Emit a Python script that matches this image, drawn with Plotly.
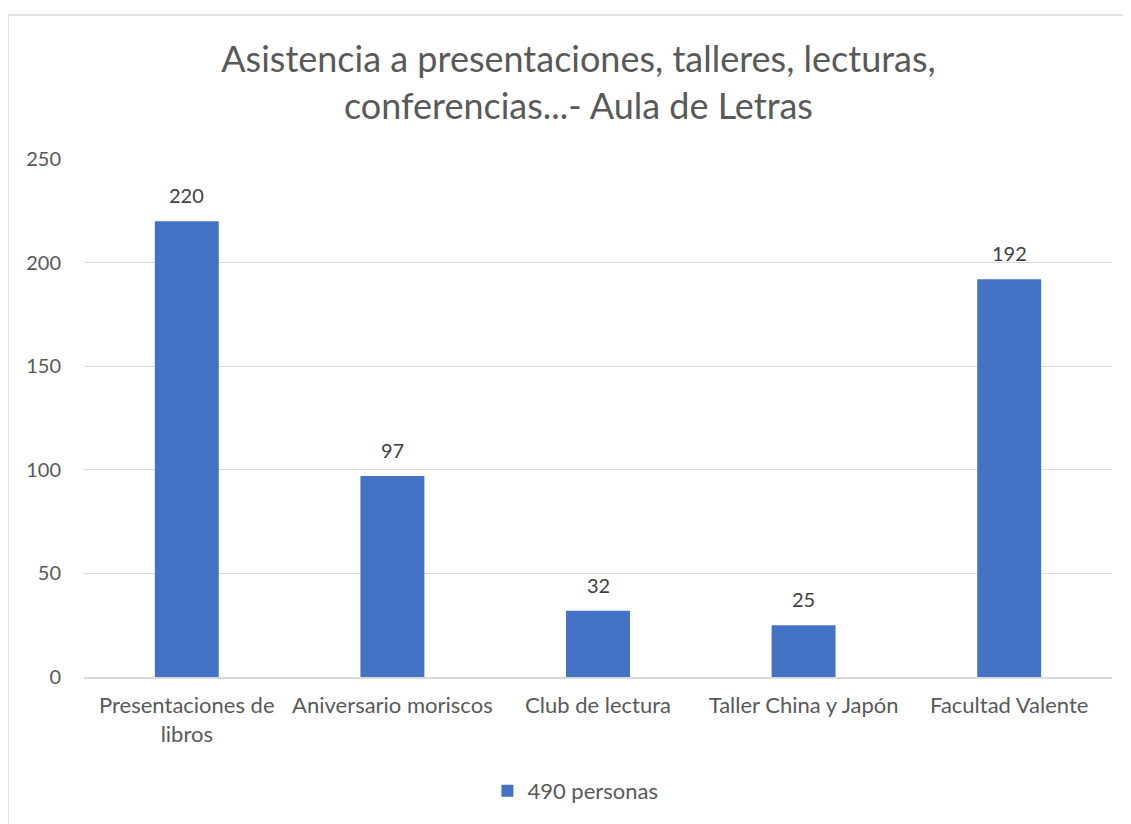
import plotly.graph_objects as go

categories = ["Presentaciones de<br>libros", "Aniversario moriscos", "Club de lectura",
              "Taller China y Japón", "Facultad Valente"]
values = [220, 97, 32, 25, 192]
series_name = "490 personas"
title_text = "Asistencia a presentaciones, talleres, lecturas,<br>conferencias...- Aula de Letras"

FONT = "Lato, Open Sans, sans-serif"
TXT = "#595959"

W, H = 1123, 816
L, T = 76, 151
PW, PH = 1028, 518

fig = go.Figure()
fig.add_trace(go.Bar(
    x=categories, y=values, name=series_name,
    marker=dict(color="#4472C4", line=dict(width=0)),
    showlegend=True,
))

for c, v in zip(categories, values):
    fig.add_annotation(x=c, y=v, text=str(v), showarrow=False, yanchor="bottom",
                       yshift=12, font=dict(size=20, color="#404040", family=FONT))

fig.update_layout(
    width=W, height=H,
    margin=dict(l=L, r=W - L - PW, t=T, b=H - T - PH),
    paper_bgcolor="white", plot_bgcolor="white",
    font=dict(family=FONT, color=TXT, size=20),
    title=dict(text=title_text, x=0.508, xanchor="center", xref="container",
               y=1 - 64 / H, yanchor="middle", yref="container",
               font=dict(size=36, color=TXT, family=FONT)),
    bargap=0.689,
    showlegend=True,
    legend=dict(orientation="h", x=0.478, xanchor="center", y=-0.22, yanchor="middle",
                font=dict(size=22, color=TXT, family=FONT)),
    xaxis=dict(showgrid=False, showline=True, linecolor="#d9d9d9", linewidth=1.5,
               ticks="", tickfont=dict(size=22, color=TXT, family=FONT)),
    yaxis=dict(range=[0, 250], dtick=50, showgrid=True, gridcolor="#d9d9d9",
               gridwidth=1, zeroline=False, showline=False, ticks="",
               ticklen=0, tickfont=dict(size=20, color=TXT, family=FONT)),
)
fig.update_yaxes(ticklabelstandoff=22)
fig.update_xaxes(ticklabelstandoff=8)

# chart area border
x0 = (0 - L) / PW
y1 = 1 + (T - 7) / PH
fig.add_shape(type="rect", xref="paper", yref="paper", x0=x0, x1=1.1, y0=-0.6, y1=y1,
              line=dict(color="#d9d9d9", width=1.5), fillcolor="rgba(0,0,0,0)", layer="below")

fig.write_html("out.html")
